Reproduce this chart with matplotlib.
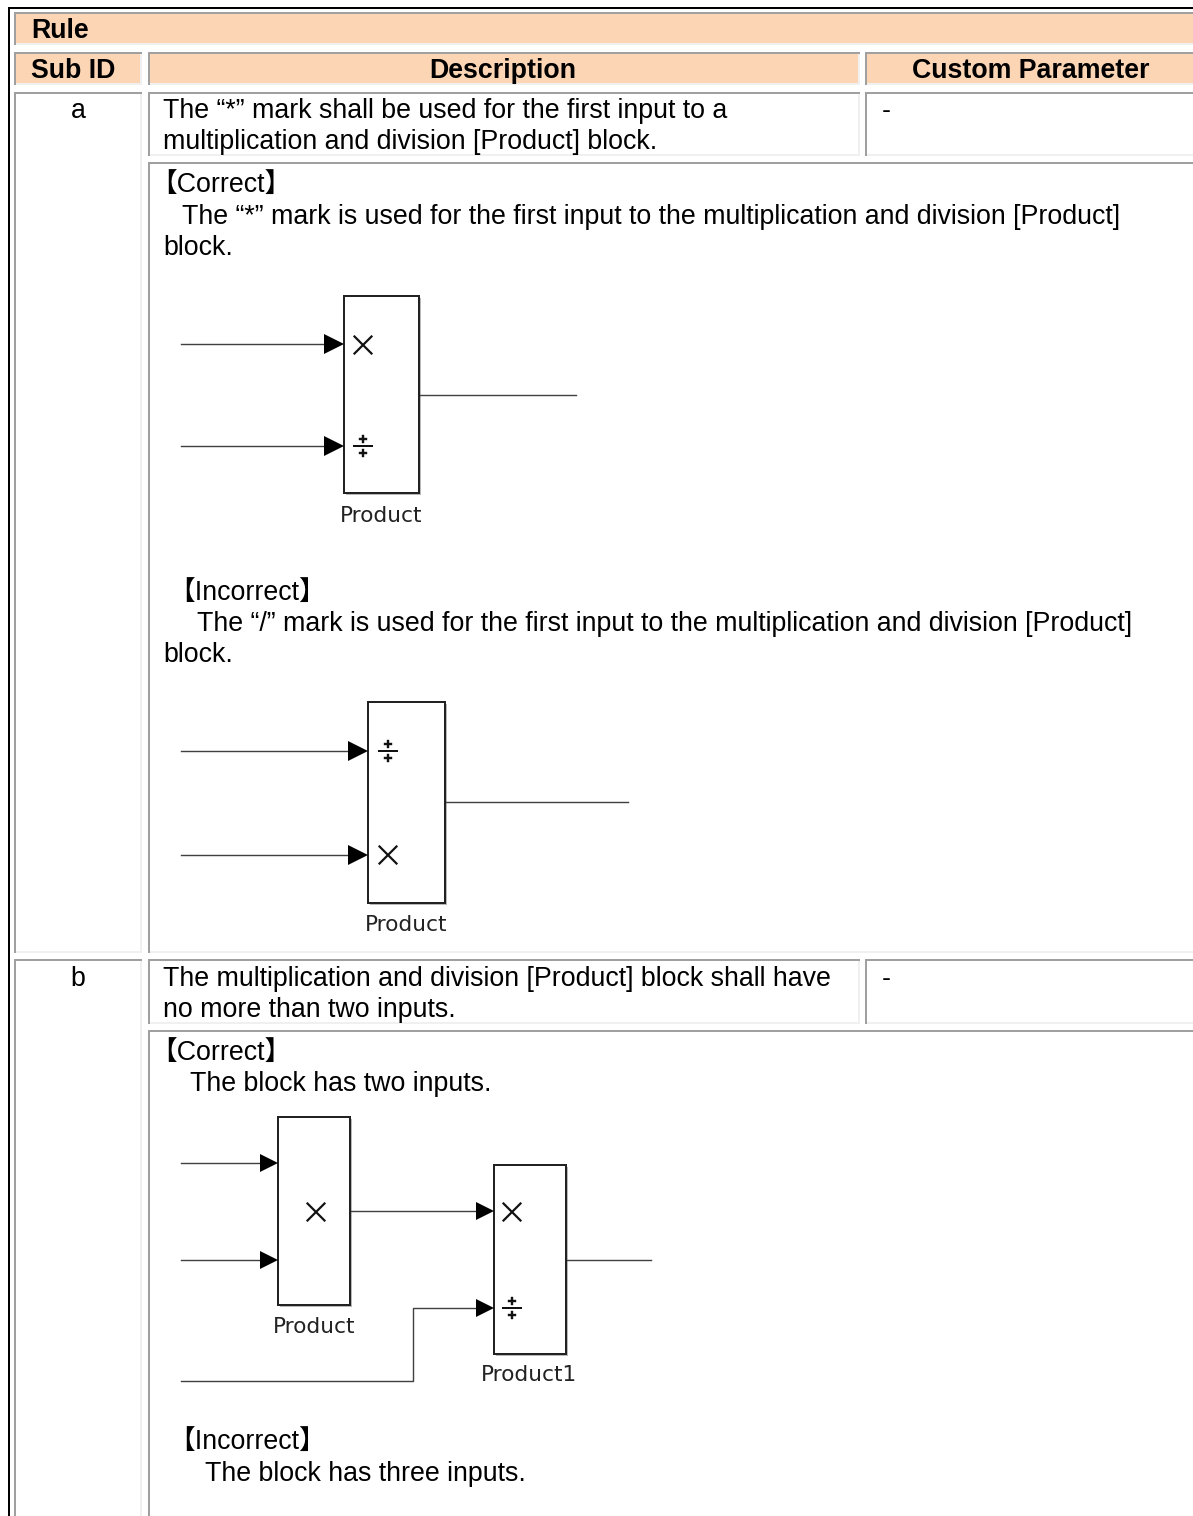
import matplotlib
matplotlib.use('Agg')
import matplotlib.pyplot as plt
from matplotlib.patches import Rectangle, Polygon

W, H = 1193, 1516
FONT = ['Liberation Sans', 'Noto Sans CJK JP']
HEAD_COL = '#fcd5b4'
DARK = '#a0a0a0'
LIGHT = '#f0f0f0'

# cells: x0, y0, x1, y1, fill
header_cells = [(14, 12, 1200, 45), (14, 52, 142, 85), (148, 52, 860, 85), (865, 52, 1200, 85)]
body_cells = [(14, 92, 142, 953), (148, 92, 860, 156), (865, 92, 1200, 156), (148, 162, 1200, 953),
              (14, 959, 142, 1530), (148, 959, 860, 1024), (865, 959, 1200, 1024), (148, 1030, 1200, 1530)]

# text: x, baseline y, string
bold_left = [(31, 38, 'Rule'), (31, 78, 'Sub ID')]
bold_center = [(503, 78, 'Description'), (1030.5, 78, 'Custom Parameter')]
center_text = [(78, 118, 'a'), (78, 986, 'b')]
body_text = [
    (163, 118, 'The \u201c*\u201d mark shall be used for the first input to a'),
    (163, 149, 'multiplication and division [Product] block.'),
    (882, 118, '-'),
    (150, 192, '\u3010Correct\u3011'),
    (182, 224, 'The \u201c*\u201d mark is used for the first input to the multiplication and division [Product]'),
    (163, 255, 'block.'),
    (168, 600, '\u3010Incorrect\u3011'),
    (197, 631, 'The \u201c/\u201d mark is used for the first input to the multiplication and division [Product]'),
    (163, 662, 'block.'),
    (163, 986, 'The multiplication and division [Product] block shall have'),
    (163, 1017, 'no more than two inputs.'),
    (882, 986, '-'),
    (150, 1060, '\u3010Correct\u3011'),
    (190, 1091, 'The block has two inputs.'),
    (168, 1449, '\u3010Incorrect\u3011'),
    (205, 1481, 'The block has three inputs.'),
]

# diagram parts
blocks = [(344, 296, 419, 493), (368, 702, 445, 903), (278, 1117, 350, 1305), (494, 1165, 566, 1354)]
block_labels = [(381.5, 516, 'Product'), (406.5, 925, 'Product'), (314, 1327, 'Product'), (529, 1375, 'Product1')]
lines = [
    [(181, 344), (326, 344)], [(181, 446), (326, 446)], [(419, 395), (576, 395)],
    [(181, 751), (350, 751)], [(181, 855), (350, 855)], [(445, 802), (628, 802)],
    [(181, 1163), (261, 1163)], [(181, 1260), (261, 1260)], [(350, 1211), (477, 1211)],
    [(181, 1381), (413, 1381), (413, 1308), (477, 1308)], [(566, 1260), (651, 1260)],
]
# arrow tips: x of tip, y, length
arrows = [(344, 344, 20), (344, 446, 20), (368, 751, 20), (368, 855, 20),
          (278, 1163, 18), (278, 1260, 18), (494, 1211, 18), (494, 1308, 18)]
times_marks = [(363, 345), (388, 855), (316, 1212), (512, 1212)]
divide_marks = [(363, 446), (388, 751), (512, 1308)]


def px_lw(px):
    return px * 72 / 100


def cell(ax, x0, y0, x1, y1, fill):
    ax.add_patch(Rectangle((x0, y0), x1 - x0, y1 - y0, fc=fill, ec='none', zorder=1))
    ax.plot([x1 - 1, x1 - 1], [y0, y1], color=LIGHT, lw=px_lw(2), solid_capstyle='butt', zorder=2)
    ax.plot([x0, x1], [y1 - 1, y1 - 1], color=LIGHT, lw=px_lw(2), solid_capstyle='butt', zorder=2)
    ax.plot([x0 + 1, x0 + 1], [y0, y1], color=DARK, lw=px_lw(2), solid_capstyle='butt', zorder=2)
    ax.plot([x0, x1], [y0 + 1, y0 + 1], color=DARK, lw=px_lw(2), solid_capstyle='butt', zorder=2)


fig = plt.figure(figsize=(W / 100, H / 100), dpi=100)
ax = fig.add_axes([0, 0, 1, 1])
ax.set_xlim(0, W)
ax.set_ylim(H, 0)
ax.axis('off')

# outer table border
ax.plot([W, 9, 9], [8, 8, H], color='black', lw=px_lw(2), solid_capstyle='butt', solid_joinstyle='miter', zorder=3)

for c in header_cells:
    cell(ax, *c, HEAD_COL)
for c in body_cells:
    cell(ax, *c, 'white')

for x, y, s in bold_left:
    ax.text(x, y, s, family=FONT, fontsize=19.25, fontweight='bold', va='baseline', ha='left', color='black', zorder=5)
for x, y, s in bold_center:
    ax.text(x, y, s, family=FONT, fontsize=19.25, fontweight='bold', va='baseline', ha='center', color='black', zorder=5)
for x, y, s in center_text:
    ax.text(x, y, s, family=FONT, fontsize=19.25, va='baseline', ha='center', color='black', zorder=5)
for x, y, s in body_text:
    ax.text(x, y, s, family=FONT, fontsize=19.25, va='baseline', ha='left', color='black', zorder=5)

# diagrams
for x0, y0, x1, y1 in blocks:
    ax.add_patch(Rectangle((x0 + 2, y0 + 2), x1 - x0, y1 - y0, fc='#b8b8b8', ec='none', zorder=3))
    ax.add_patch(Rectangle((x0, y0), x1 - x0, y1 - y0, fc='white', ec='#222222', lw=px_lw(2), zorder=4))
for pts in lines:
    ax.plot([p[0] for p in pts], [p[1] for p in pts], color='#404040', lw=px_lw(1.4), zorder=3)
for tip, y, ln in arrows:
    ax.add_patch(Polygon([(tip, y), (tip - ln, y - ln * 0.5), (tip - ln, y + ln * 0.5)], fc='black', ec='none', zorder=5))
for x, y in times_marks:
    ax.plot([x - 8.5, x + 8.5], [y - 8.5, y + 8.5], color='#111111', lw=px_lw(2.2), zorder=5)
    ax.plot([x - 8.5, x + 8.5], [y + 8.5, y - 8.5], color='#111111', lw=px_lw(2.2), zorder=5)
for x, y in divide_marks:
    ax.plot([x - 9, x + 9], [y, y], color='#111111', lw=px_lw(2), zorder=5)
    ax.plot([x, x], [y - 10, y - 4], color='#111111', lw=px_lw(2.4), zorder=5)
    ax.plot([x - 3, x + 3], [y - 7, y - 7], color='#111111', lw=px_lw(2.4), zorder=5)
    ax.plot([x, x], [y + 4, y + 10], color='#111111', lw=px_lw(2.4), zorder=5)
    ax.plot([x - 3, x + 3], [y + 7, y + 7], color='#111111', lw=px_lw(2.4), zorder=5)
for x, y, s in block_labels:
    ax.text(x, y, s, family=['DejaVu Sans'], fontsize=15.6, va='center', ha='center', color='#222222', zorder=5)

fig.savefig('out.png', dpi=100, facecolor='white')
